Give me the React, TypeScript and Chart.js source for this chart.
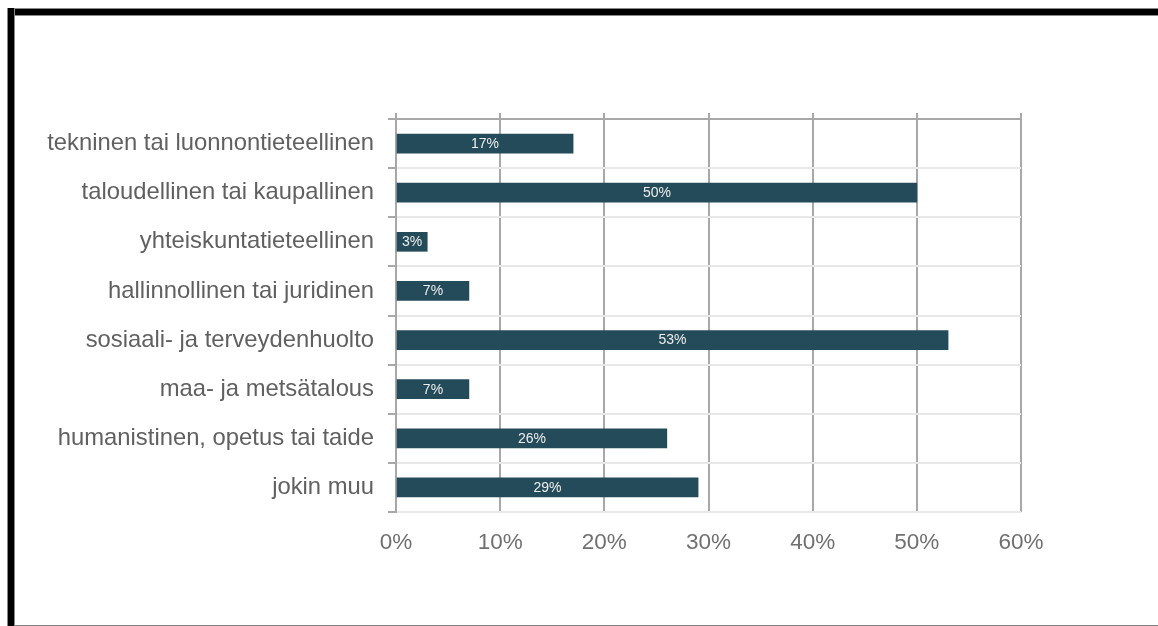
import React, { useEffect, useRef } from "react";
import { Chart, registerables } from "chart.js";

Chart.register(...registerables);

const categories: string[] = [
  "tekninen tai luonnontieteellinen",
  "taloudellinen tai kaupallinen",
  "yhteiskuntatieteellinen",
  "hallinnollinen tai juridinen",
  "sosiaali- ja terveydenhuolto",
  "maa- ja metsätalous",
  "humanistinen, opetus tai taide",
  "jokin muu",
];

const shares: number[] = [17, 50, 3, 7, 53, 7, 26, 29];

const axisMin = 0;
const axisMax = 60;
const axisStep = 10;

const FONT = "'Liberation Sans', Arial, sans-serif";
const BAR = "#244B59";
const GRID_DARK = "#a8a8a8";
const GRID_LIGHT = "#e8e8e8";

const valueLabels = {
  id: "valueLabels",
  afterDatasetsDraw(chart: any) {
    const ctx = chart.ctx;
    const meta = chart.getDatasetMeta(0);
    ctx.save();
    ctx.font = `14px ${FONT}`;
    ctx.fillStyle = "#eeeeee";
    ctx.textAlign = "center";
    ctx.textBaseline = "middle";
    meta.data.forEach((bar: any, i: number) => {
      const v = chart.data.datasets[0].data[i];
      const cx = (bar.x + bar.base) / 2;
      ctx.fillText(`${v}%`, cx, bar.y + 0.5);
    });
    ctx.restore();
  },
};

export default function App() {
  const ref = useRef<HTMLCanvasElement | null>(null);

  useEffect(() => {
    if (!ref.current) return;
    const chart = new Chart(ref.current, {
      type: "bar",
      data: {
        labels: categories,
        datasets: [
          {
            data: shares,
            backgroundColor: BAR,
            borderWidth: 0,
            barThickness: 19,
            xAxisID: "x",
          },
        ],
      },
      plugins: [valueLabels],
      options: {
        indexAxis: "y",
        responsive: false,
        animation: false,
        layout: { padding: { left: 0, right: 137, top: 0, bottom: 0 } },
        plugins: {
          legend: { display: false },
          tooltip: { enabled: false },
          title: { display: false },
        },
        scales: {
          x: {
            type: "linear",
            position: "bottom",
            min: axisMin,
            max: axisMax,
            ticks: {
              stepSize: axisStep,
              padding: 17,
              color: "#707070",
              font: { family: FONT, size: 22.5 },
              callback: (v: any) => `${v}%`,
            },
            grid: {
              color: GRID_DARK,
              lineWidth: 2,
              drawTicks: false,
            },
            border: { display: false },
            afterFit: (s: any) => {
              s.height = 114;
            },
          },
          x2: {
            type: "linear",
            position: "top",
            min: axisMin,
            max: axisMax,
            ticks: { stepSize: axisStep, display: false },
            grid: {
              drawOnChartArea: false,
              color: GRID_DARK,
              lineWidth: 2,
              tickLength: 6,
            },
            border: { display: true, color: GRID_DARK, width: 2 },
            afterFit: (s: any) => {
              s.height = 119;
            },
          },
          y: {
            type: "category",
            offset: true,
            ticks: {
              padding: 14,
              color: "#606060",
              font: { family: FONT, size: 23.8 },
            },
            grid: {
              offset: true,
              color: GRID_LIGHT,
              lineWidth: 2,
              tickLength: 8,
              tickColor: GRID_DARK,
              tickWidth: 2,
            },
            border: { display: true, color: GRID_DARK, width: 2 },
            afterFit: (s: any) => {
              s.width = 396;
            },
          },
        },
      },
    } as any);
    return () => chart.destroy();
  }, []);

  return (
    <div
      style={{
        position: "fixed",
        left: 0,
        top: 0,
        width: 1158,
        height: 626,
        background: "#ffffff",
        overflow: "hidden",
      }}
    >
      <canvas
        ref={ref}
        width={1158}
        height={626}
        style={{ position: "absolute", left: 0, top: 0, width: 1158, height: 626 }}
      />
      <div
        style={{
          position: "absolute",
          left: 7,
          top: 8,
          right: 0,
          height: 8,
          background: "#000",
          borderTop: "1px solid #888",
          borderBottom: "1px solid #888",
          boxSizing: "border-box",
        }}
      />
      <div
        style={{
          position: "absolute",
          left: 7,
          top: 8,
          width: 8,
          bottom: 0,
          background: "#000",
          borderLeft: "1px solid #888",
          borderRight: "1px solid #888",
          boxSizing: "border-box",
        }}
      />
      <div
        style={{
          position: "absolute",
          left: 15,
          right: 0,
          top: 625,
          height: 1,
          background: "#808080",
        }}
      />
    </div>
  );
}
